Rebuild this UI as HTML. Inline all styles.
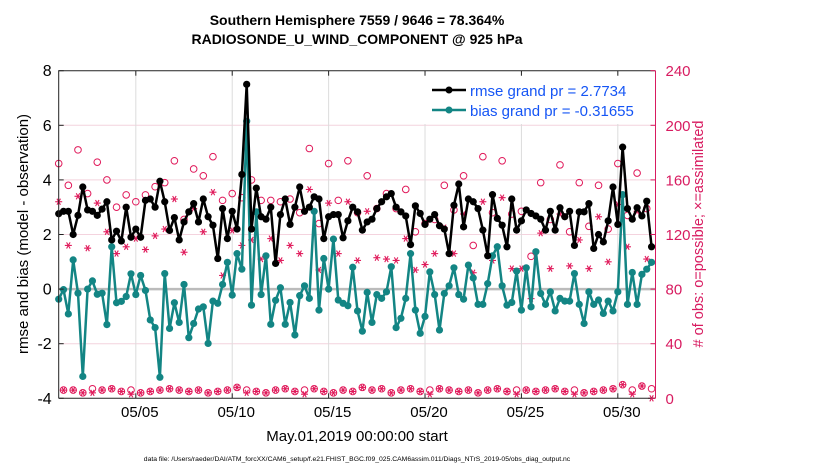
<!DOCTYPE html>
<html><head><meta charset="utf-8"><style>
html,body{margin:0;padding:0;background:#fff;}
svg{display:block;font-family:"Liberation Sans",sans-serif;}
</style></head><body>
<svg id="chart" width="830" height="470" viewBox="0 0 830 470" xmlns="http://www.w3.org/2000/svg">
<text x="357" y="25" text-anchor="middle" font-size="14" font-weight="bold">Southern Hemisphere 7559 / 9646 = 78.364%</text>
<text x="357" y="44" text-anchor="middle" font-size="14" font-weight="bold">RADIOSONDE_U_WIND_COMPONENT @ 925 hPa</text>
<g id="grid"></g>
<g id="marks"></g>
<g id="axes"></g>
<text transform="translate(28,234) rotate(-90)" text-anchor="middle" font-size="15">rmse and bias (model - observation)</text>
<text transform="translate(703,234) rotate(-90)" text-anchor="middle" font-size="14.5" fill="#d81b60"># of obs: o=possible; ×=assimilated</text>
<text x="357" y="441" text-anchor="middle" font-size="15">May.01,2019 00:00:00 start</text>
<text x="357" y="461" text-anchor="middle" font-size="6.8">data file: /Users/raeder/DAI/ATM_forcXX/CAM6_setup/f.e21.FHIST_BGC.f09_025.CAM6assim.011/Diags_NTrS_2019-05/obs_diag_output.nc</text>
<g>
<rect x="424" y="76" width="225" height="48" fill="#fff"/>
<line x1="432" y1="90" x2="466" y2="90" stroke="#000" stroke-width="2.5"/>
<circle cx="449" cy="90" r="3.5" fill="#000"/>
<text x="470" y="96" font-size="15" fill="#1555f5">rmse grand pr = 2.7734</text>
<line x1="432" y1="110" x2="466" y2="110" stroke="#138584" stroke-width="2.5"/>
<circle cx="449" cy="110" r="3.5" fill="#138584"/>
<text x="470" y="116" font-size="15" fill="#1555f5">bias grand pr = -0.31655</text>
</g>
</svg>
<script>
const rmse=[2.76,2.85,2.85,2.0,2.7,3.74,2.9,2.85,2.7,2.93,3.2,1.8,2.12,1.76,3.0,1.9,2.2,1.9,3.25,3.3,3.0,3.95,3.2,2.15,2.62,1.8,2.46,2.83,3.13,2.46,3.3,2.65,2.34,1.12,2.95,1.85,
2.85,2.2,4.2,7.5,2.2,3.7,2.65,2.56,3.0,0.94,2.73,3.3,2.37,3.0,3.74,2.85,3.0,3.38,3.3,1.85,2.65,2.73,2.73,1.88,2.5,3.0,2.83,2.16,2.46,
2.56,2.95,3.2,3.38,3.5,3.0,2.83,2.68,1.63,3.05,2.77,2.37,2.56,2.73,2.32,2.2,1.3,3.07,3.85,2.28,3.3,3.2,2.95,2.16,1.22,3.46,2.59,2.34,1.55,3.3,
2.16,2.5,2.9,2.77,2.68,2.56,2.16,2.85,2.16,2.98,2.65,2.85,1.6,2.83,2.83,3.13,1.49,2.0,1.73,2.5,3.74,2.37,5.2,2.95,2.56,2.98,2.68,3.22,1.55];
const bias=[-0.37,-0.02,-0.91,1.07,-0.15,-3.2,0,0.3,-0.19,-0.15,-1.3,1.55,-0.5,-0.45,-0.27,0.56,-0.2,
0.5,-0.05,-1.13,-1.41,-3.23,0.57,-1.44,-0.5,-1.22,0.17,-1.78,-1.26,-0.73,-0.65,-1.99,-0.44,-0.52,0.17,0.98,
-0.22,1.3,0.73,6.15,-0.59,2.83,-0.2,1.22,-1.29,-0.41,0.05,-1.29,-0.49,-1.68,-0.24,0.12,-0.34,2.85,-0.77,1.12,0,1.83,-0.4,-0.52,-0.61,0.8,-0.8,-1.54,-0.12,
-1.22,-0.2,-0.34,-0.1,0.82,-1.41,-1.07,-0.34,1.3,-0.77,-1.62,-1.0,0.63,-0.2,-1.5,-0.16,0.12,0.78,-0.2,-0.37,0.88,0.41,-0.56,-0.56,0.2,1.22,1.55,0.12,-0.59,-0.49,
0.66,-0.77,0.78,-0.65,1.37,-0.16,-0.56,-0.1,-0.8,-0.34,-0.44,-0.44,0.57,-0.56,-1.26,-0.1,-0.56,-0.4,-0.89,-0.44,-0.8,-0.1,3.46,-0.56,0.61,-0.56,0.54,0.73,0.98];
const possHigh=[172,156,182,150,173,160,140,149,144,149,155,158,174,131,168,163,177,145,150,147,160,145,145,144,146,136,183,128,172,145,174,136,163,139,150,139,153,122,128,131,156,138,163,112,177,136,174,135,137,104,158,131,171,122,158,126,156,124,172,134,165,139];
const assimHigh=[144,112,148,110,143,122,106,111,117,109,119,124,146,107,139,122,151,90,123,112,116,102,117,101,112,106,153,94,143,106,144,101,137,103,102,101,117,94,98,106,125,106,135,92,144,101,147,95,95,73,121,95,135,97,116,95,133,100,142,111,137,102];
const possLow=[6,6,4,7,6,7,5,6,4,5,6,7,6,5,6,4,5,6,8,6,5,4,6,7,5,6,7,5,4,6,5,8,6,7,4,6,7,5,6,7,6,5,6,4,6,7,5,6,6,5,6,7,5,6,4,5,6,7,10,6,9,7];
const assimLow=[6,6,4,4,6,7,5,3,4,5,6,7,6,5,6,4,5,6,8,4,5,4,6,7,5,3,7,5,4,6,5,8,6,7,4,6,7,5,3,7,6,5,6,4,6,7,5,3,6,5,6,7,5,3,4,5,6,7,10,3,9,0];
const leftTicks=[-4,-2,0,2,4,6,8];
const rightTicks=[0,40,80,120,160,200,240];
const dateTicks=[4,9,14,19,24,29];
const dateLabels=["05/05","05/10","05/15","05/20","05/25","05/30"];

const NS="http://www.w3.org/2000/svg";
const X0=58.7,X1=655.5,Y0=70.7,Y1=398.3;
function xT(days){return X0+days*19.28;}
function xi(i){return xT(i*0.25);}
function yL(v){return Y1-(v+4)*(Y1-Y0)/12;}
function yR(c){return Y1-c*(Y1-Y0)/240;}
function mk(tag,attrs,parent){const e=document.createElementNS(NS,tag);for(const k in attrs)e.setAttribute(k,attrs[k]);parent.appendChild(e);return e;}
const grid=document.getElementById('grid'),marks=document.getElementById('marks'),axes=document.getElementById('axes');

leftTicks.forEach(v=>{
  if(v===-4||v===8)return;
  const l=mk('line',{x1:X0,x2:X1,y1:yL(v),y2:yL(v),stroke:v===0?'#bbbbbb':'#f4d3de','stroke-width':v===0?2.5:1},grid);
  
  
});
dateTicks.forEach(d=>{
  const l=mk('line',{x1:xT(d),x2:xT(d),y1:Y0,y2:Y1,stroke:'#dcdcdc','stroke-width':1},grid);
  
  
});

function star(cx,cy,s,parent){
  const g=mk('g',{stroke:'#e0195a','stroke-width':1.1},parent);
  
  
  mk('line',{x1:cx-s,x2:cx+s,y1:cy,y2:cy},g);
  mk('line',{x1:cx-s*0.5,x2:cx+s*0.5,y1:cy-s*0.87,y2:cy+s*0.87},g);
  mk('line',{x1:cx-s*0.5,x2:cx+s*0.5,y1:cy+s*0.87,y2:cy-s*0.87},g);
}
function obs(i,p,a){
  const c=mk('circle',{cx:xi(i),cy:yR(p),r:3.3,fill:'none',stroke:'#e0195a','stroke-width':1},marks);
  
  
  star(xi(i),yR(a),3.5,marks);
}
possHigh.forEach((p,k)=>obs(2*k,p,assimHigh[k]));
possLow.forEach((p,k)=>obs(2*k+1,p,assimLow[k]));

function series(vals,color,name){
  const pts=vals.map((v,i)=>xi(i).toFixed(1)+','+yL(v).toFixed(1)).join(' ');
  const pl=mk('polyline',{points:pts,fill:'none',stroke:color,'stroke-width':2.5,'stroke-linejoin':'round'},marks);
  
  
  vals.forEach((v,i)=>{
    const c=mk('circle',{cx:xi(i),cy:yL(v),r:3.6,fill:color},marks);
    
    
  });
}
series(bias,'#138584','bias');
series(rmse,'#000000','rmse');

const frame=mk('path',{d:`M${X0},${Y1}V${Y0}H${X1}`,fill:'none',stroke:'#222','stroke-width':1},axes);


const bx=mk('line',{x1:X0,x2:X1,y1:Y1,y2:Y1,stroke:'#222','stroke-width':1},axes);


const ry=mk('line',{x1:X1,x2:X1,y1:Y0,y2:Y1,stroke:'#d81b60','stroke-width':1},axes);


leftTicks.forEach(v=>{
  mk('line',{x1:X0,x2:X0+5,y1:yL(v),y2:yL(v),stroke:'#222'},axes);
  const t=mk('text',{x:X0-7,y:yL(v)+5.5,'text-anchor':'end','font-size':16},axes);
  t.textContent=v;
  
  
});
rightTicks.forEach(c=>{
  mk('line',{x1:X1-5,x2:X1,y1:yR(c),y2:yR(c),stroke:'#d81b60'},axes);
  const t=mk('text',{x:X1+10,y:yR(c)+5.5,'font-size':15,fill:'#d81b60'},axes);
  t.textContent=c;
  
  
});
dateTicks.forEach((d,k)=>{
  mk('line',{x1:xT(d),x2:xT(d),y1:Y1,y2:Y1-5,stroke:'#222'},axes);
  mk('line',{x1:xT(d),x2:xT(d),y1:Y0,y2:Y0+5,stroke:'#222'},axes);
  const t=mk('text',{x:xT(d)+4,y:417,'text-anchor':'middle','font-size':15},axes);
  t.textContent=dateLabels[k];
  
  
});
</script>
</body></html>
